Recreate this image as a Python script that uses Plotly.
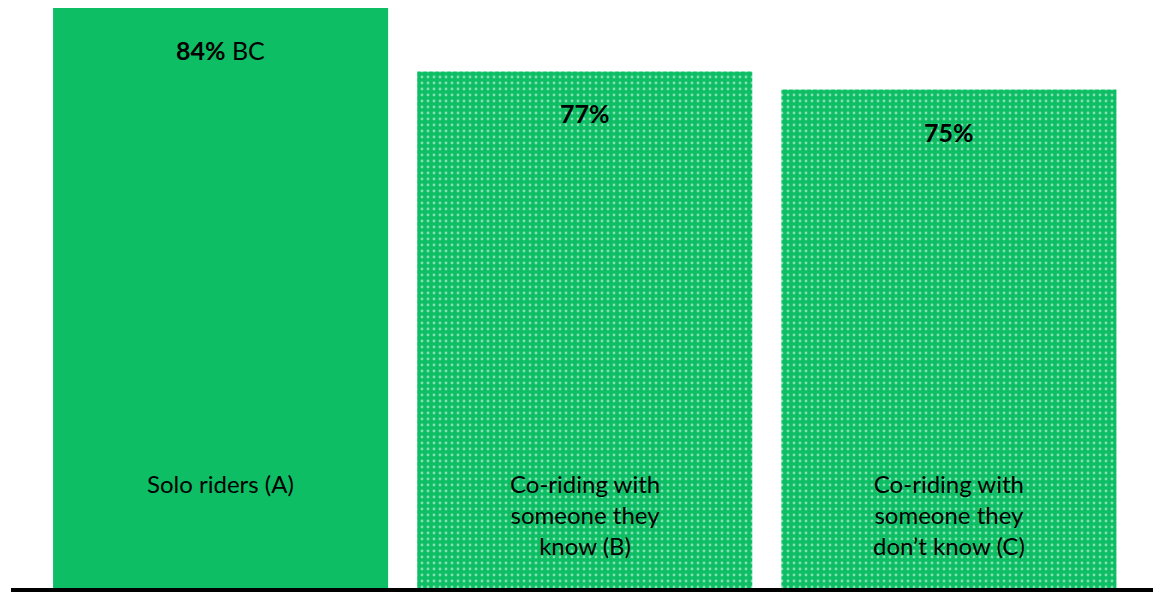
import plotly.graph_objects as go

# Share of respondents by riding arrangement
categories = ["Solo riders (A)", "Co-riding with<br>someone they<br>know (B)", "Co-riding with<br>someone they<br>don’t know (C)"]
values = [84, 77, 75]
sig_letters = ["BC", "", ""]
patterns = ["", ".", "."]

GREEN = "#0DBE64"
FONT = "Lato"
AXIS_MIN = 20

fig = go.Figure()
fig.add_trace(go.Bar(
    x=list(range(len(categories))),
    y=values,
    width=0.92,
    marker=dict(
        color=GREEN,
        line=dict(width=0),
        pattern=dict(shape=patterns, fgcolor="white", bgcolor=GREEN, size=6, solidity=0.17),
    ),
    hoverinfo="skip",
))

# Value labels near the top of each bar
for i, (v, s) in enumerate(zip(values, sig_letters)):
    txt = f"<b>{v}%</b>" + (f" {s}" if s else "")
    fig.add_annotation(x=i, y=v, yref="y", text=txt, showarrow=False,
                       yanchor="middle", yshift=-42, font=dict(family=FONT, size=25, color="black"))

# Category names inside the bars, near the bottom
for i, c in enumerate(categories):
    fig.add_annotation(x=i, y=AXIS_MIN, yref="y", text=c, showarrow=False,
                       yanchor="top", yshift=121,
                       font=dict(family=FONT, size=24, color="black"))

fig.update_layout(
    width=1153, height=592,
    margin=dict(l=11, r=0, t=8, b=4),
    paper_bgcolor="white", plot_bgcolor="white",
    showlegend=False,
    xaxis=dict(range=[-0.5755, 2.5604], showticklabels=False, ticks="", showgrid=False,
               zeroline=False, showline=True, linecolor="black", linewidth=4),
    yaxis=dict(range=[AXIS_MIN, 84], visible=False, showgrid=False, zeroline=False),
)

fig.write_html("out.html")
